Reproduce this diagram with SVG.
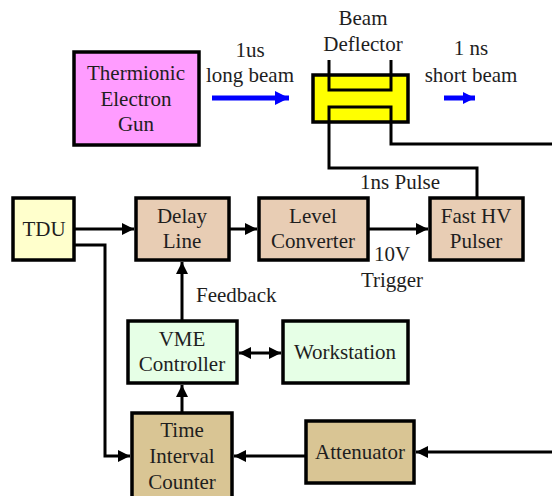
<svg xmlns="http://www.w3.org/2000/svg" width="552" height="496" viewBox="0 0 552 496" font-family="Liberation Serif, Times New Roman, DejaVu Serif, serif">
<defs>
<style>
text{font-size:21px;fill:#1e1e1e;text-anchor:middle}
.box{stroke:#000;stroke-width:3.5}
.ln{fill:none;stroke:#000;stroke-width:3}
.blue{fill:none;stroke:#0000ff;stroke-width:5}
</style>
<marker id="ah" viewBox="0 0 10 10" refX="10" refY="5" markerWidth="18" markerHeight="12" markerUnits="userSpaceOnUse" orient="auto-start-reverse">
<path d="M0,0 L10,5 L0,10 z" fill="#000"/>
</marker>
<marker id="bh" viewBox="0 0 10 10" refX="10" refY="5" markerWidth="23" markerHeight="14" markerUnits="userSpaceOnUse" orient="auto">
<path d="M0,0 L10,5 L0,10 z" fill="#0000ff"/>
</marker>
<marker id="bs" viewBox="0 0 10 10" refX="10" refY="5" markerWidth="20" markerHeight="12" markerUnits="userSpaceOnUse" orient="auto">
<path d="M0,0 L10,5 L0,10 z" fill="#0000ff"/>
</marker>
</defs>
<rect width="552" height="496" fill="#fff"/>

<g id="connectors">
<path class="blue" d="M212,98 H289" marker-end="url(#bh)"/>
<path class="blue" d="M444,98 H475" marker-end="url(#bs)"/>
<path class="ln" d="M329,107 V168 H477 V198"/>
<path class="ln" d="M391,107 V144 H552"/>
<path class="ln" d="M74,229 H134" marker-end="url(#ah)"/>
<path class="ln" d="M74,245 H105 V456 H130" marker-end="url(#ah)"/>
<path class="ln" d="M229,229 H257" marker-end="url(#ah)"/>
<path class="ln" d="M368,229 H428" marker-end="url(#ah)"/>
<path class="ln" d="M182,322 V262" marker-end="url(#ah)"/>
<path class="ln" d="M182,413 V385" marker-end="url(#ah)"/>
<path class="ln" d="M239,353 H281" marker-start="url(#ah)" marker-end="url(#ah)"/>
<path class="ln" d="M306,456 H234" marker-end="url(#ah)"/>
<path class="ln" d="M552,452 H416" marker-end="url(#ah)"/>
<text x="250" y="57">1us</text>
<text x="250" y="82">long beam</text>
<text x="471" y="55">1 ns</text>
<text x="471" y="82">short beam</text>
<text x="400" y="189">1ns Pulse</text>
<text x="392" y="261">10V</text>
<text x="392" y="287">Trigger</text>
<text x="196" y="302" style="text-anchor:start">Feedback</text>
</g>

<g id="gun">
<rect class="box" x="74" y="52" width="125" height="93" fill="#ff9cff"/>
<text x="136" y="80">Thermionic</text>
<text x="136" y="106">Electron</text>
<text x="136" y="131">Gun</text>
</g>

<g id="deflector">
<rect class="box" x="313" y="75" width="95" height="47" fill="#ffff00"/>
<path class="ln" d="M329,60 V90 H391 V60"/>
<path class="ln" d="M329,122 V107 H391 V122"/>
<text x="363" y="25">Beam</text>
<text x="363" y="51">Deflector</text>
</g>

<g id="tdu">
<rect class="box" x="13" y="198" width="61" height="62" fill="#ffffcc"/>
<text x="44" y="236">TDU</text>
</g>

<g id="delay">
<rect class="box" x="136" y="198" width="93" height="62" fill="#e8cdb4"/>
<text x="182" y="223">Delay</text>
<text x="182" y="248">Line</text>
</g>

<g id="level">
<rect class="box" x="259" y="198" width="109" height="62" fill="#e8cdb4"/>
<text x="313" y="223">Level</text>
<text x="313" y="248">Converter</text>
</g>

<g id="pulser">
<rect class="box" x="430" y="198" width="93" height="62" fill="#e8cdb4"/>
<text x="476" y="223">Fast HV</text>
<text x="476" y="248">Pulser</text>
</g>

<g id="vme">
<rect class="box" x="128" y="321" width="109" height="62" fill="#e6ffe6"/>
<text x="182" y="346">VME</text>
<text x="182" y="371">Controller</text>
</g>

<g id="workstation">
<rect class="box" x="283" y="321" width="125" height="62" fill="#e6ffe6"/>
<text x="345" y="359">Workstation</text>
</g>

<g id="tic">
<rect class="box" x="132" y="413" width="100" height="86" fill="#d9c594"/>
<text x="182" y="437">Time</text>
<text x="182" y="463">Interval</text>
<text x="182" y="489">Counter</text>
</g>

<g id="attenuator">
<rect class="box" x="306" y="421" width="108" height="62" fill="#d9c594"/>
<text x="360" y="459">Attenuator</text>
</g>
</svg>
